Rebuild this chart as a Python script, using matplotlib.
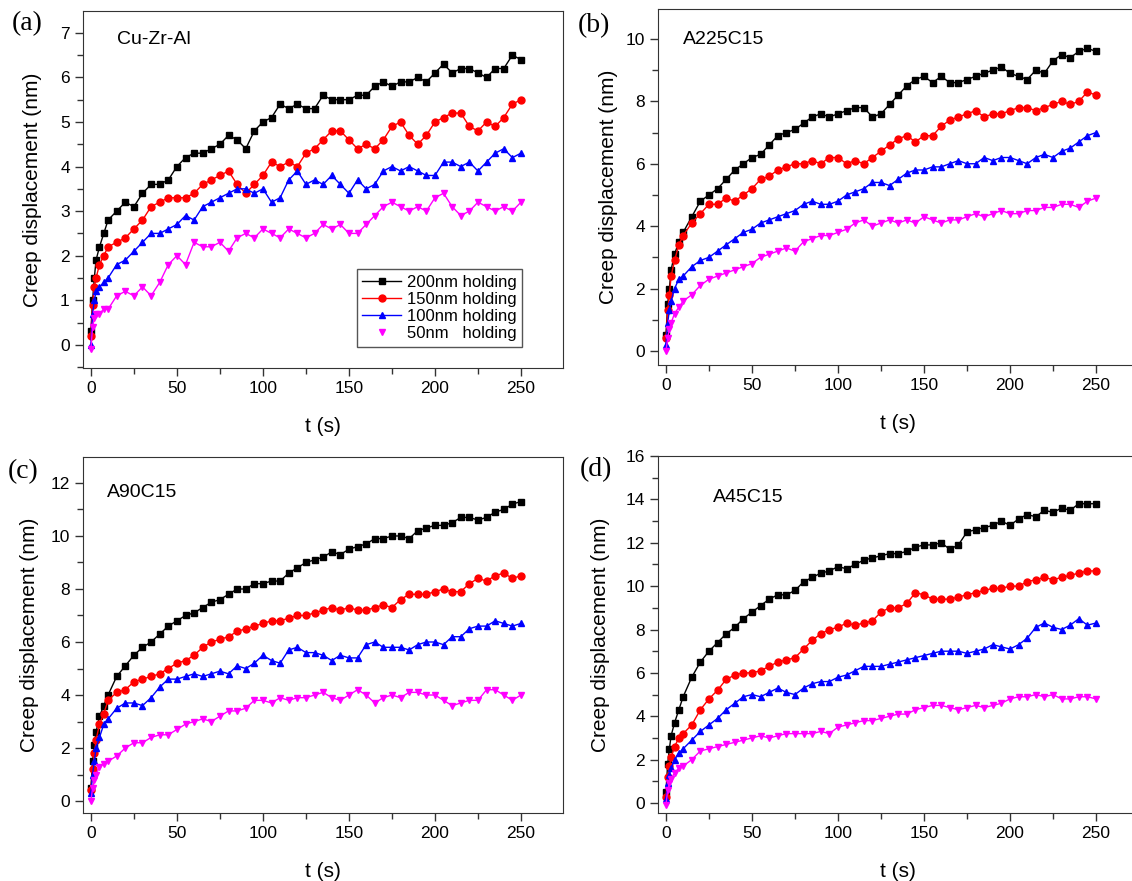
import matplotlib.pyplot as plt
from matplotlib.ticker import MultipleLocator

plt.rcParams['font.family'] = ['Liberation Sans', 'DejaVu Sans']

# time points (s), shared by all curves
t = [0, 1, 2, 3, 5, 7.5, 10] + list(range(15, 251, 5))

# (a) Cu-Zr-Al
a_200 = [0.3, 1.0, 1.5, 1.9, 2.2, 2.5, 2.8, 3.0, 3.2, 3.1, 3.4, 3.6, 3.6, 3.7, 4.0, 4.2, 4.3, 4.3, 4.4, 4.5,
         4.7, 4.6, 4.4, 4.8, 5.0, 5.1, 5.4, 5.3, 5.4, 5.3, 5.3, 5.6, 5.5, 5.5, 5.5, 5.6, 5.6, 5.8, 5.9, 5.8,
         5.9, 5.9, 6.0, 5.9, 6.1, 6.3, 6.1, 6.2, 6.2, 6.1, 6.0, 6.2, 6.2, 6.5, 6.4]
a_150 = [0.2, 0.9, 1.3, 1.5, 1.8, 2.0, 2.2, 2.3, 2.4, 2.6, 2.8, 3.1, 3.2, 3.3, 3.3, 3.3, 3.4, 3.6, 3.7, 3.8,
         3.9, 3.6, 3.4, 3.6, 3.8, 4.1, 4.0, 4.1, 4.0, 4.3, 4.4, 4.6, 4.8, 4.8, 4.6, 4.4, 4.5, 4.4, 4.6, 4.9,
         5.0, 4.7, 4.5, 4.7, 5.0, 5.1, 5.2, 5.2, 4.9, 4.8, 5.0, 4.9, 5.1, 5.4, 5.5]
a_100 = [0.0, 0.7, 1.0, 1.2, 1.3, 1.4, 1.5, 1.8, 1.9, 2.1, 2.3, 2.5, 2.5, 2.6, 2.7, 2.9, 2.8, 3.1, 3.2, 3.3,
         3.4, 3.5, 3.5, 3.4, 3.5, 3.2, 3.3, 3.7, 3.9, 3.6, 3.7, 3.6, 3.8, 3.6, 3.4, 3.7, 3.5, 3.6, 3.9, 4.0,
         3.9, 4.0, 3.9, 3.8, 3.8, 4.1, 4.1, 4.0, 4.1, 3.9, 4.1, 4.3, 4.4, 4.2, 4.3]
a_50 = [-0.1, 0.4, 0.6, 0.7, 0.7, 0.8, 0.8, 1.1, 1.2, 1.1, 1.3, 1.1, 1.4, 1.8, 2.0, 1.8, 2.3, 2.2, 2.2, 2.3,
        2.1, 2.4, 2.5, 2.4, 2.6, 2.5, 2.4, 2.6, 2.5, 2.4, 2.5, 2.7, 2.6, 2.7, 2.5, 2.5, 2.7, 2.9, 3.1, 3.2,
        3.1, 3.0, 3.1, 3.0, 3.3, 3.4, 3.1, 2.9, 3.0, 3.2, 3.1, 3.0, 3.1, 3.0, 3.2]

# (b) A225C15
b_200 = [0.5, 1.5, 2.0, 2.6, 3.1, 3.5, 3.8, 4.3, 4.8, 5.0, 5.2, 5.5, 5.8, 6.0, 6.2, 6.3, 6.6, 6.9, 7.0, 7.1,
         7.3, 7.5, 7.6, 7.5, 7.6, 7.7, 7.8, 7.8, 7.5, 7.6, 7.9, 8.2, 8.5, 8.7, 8.8, 8.6, 8.8, 8.6, 8.6, 8.7,
         8.8, 8.9, 9.0, 9.1, 8.9, 8.8, 8.7, 9.0, 8.9, 9.3, 9.5, 9.4, 9.6, 9.7, 9.6]
b_150 = [0.4, 1.3, 1.8, 2.4, 2.9, 3.4, 3.7, 4.1, 4.4, 4.7, 4.7, 4.9, 4.8, 5.0, 5.2, 5.5, 5.6, 5.8, 5.9, 6.0,
         6.0, 6.1, 6.0, 6.2, 6.2, 6.0, 6.1, 6.0, 6.2, 6.4, 6.6, 6.8, 6.9, 6.7, 6.9, 6.9, 7.2, 7.4, 7.5, 7.6,
         7.7, 7.5, 7.6, 7.6, 7.7, 7.8, 7.8, 7.7, 7.8, 7.9, 8.0, 7.9, 8.0, 8.3, 8.2]
b_100 = [0.2, 0.9, 1.3, 1.6, 2.0, 2.3, 2.4, 2.7, 2.9, 3.0, 3.2, 3.4, 3.6, 3.8, 3.9, 4.1, 4.2, 4.3, 4.4, 4.5,
         4.7, 4.8, 4.7, 4.7, 4.8, 5.0, 5.1, 5.2, 5.4, 5.4, 5.3, 5.5, 5.7, 5.8, 5.8, 5.9, 5.9, 6.0, 6.1, 6.0,
         6.0, 6.2, 6.1, 6.2, 6.2, 6.1, 6.0, 6.2, 6.3, 6.2, 6.4, 6.5, 6.7, 6.9, 7.0]
b_50 = [0.0, 0.4, 0.7, 0.9, 1.2, 1.4, 1.6, 1.8, 2.1, 2.3, 2.4, 2.5, 2.6, 2.7, 2.8, 3.0, 3.1, 3.2, 3.3, 3.2,
        3.5, 3.6, 3.7, 3.7, 3.8, 3.9, 4.1, 4.2, 4.0, 4.1, 4.2, 4.1, 4.2, 4.1, 4.3, 4.2, 4.1, 4.2, 4.2, 4.3,
        4.4, 4.3, 4.4, 4.5, 4.4, 4.4, 4.5, 4.5, 4.6, 4.6, 4.7, 4.7, 4.6, 4.8, 4.9]

# (c) A90C15
c_200 = [0.5, 1.5, 2.1, 2.6, 3.2, 3.6, 4.0, 4.7, 5.1, 5.5, 5.8, 6.0, 6.3, 6.6, 6.8, 7.0, 7.1, 7.3, 7.5, 7.6,
         7.8, 8.0, 8.0, 8.2, 8.2, 8.3, 8.3, 8.6, 8.8, 9.0, 9.1, 9.2, 9.4, 9.3, 9.5, 9.6, 9.7, 9.9, 9.9, 10.0,
         10.0, 9.9, 10.2, 10.3, 10.4, 10.4, 10.5, 10.7, 10.7, 10.6, 10.7, 10.9, 11.0, 11.2, 11.3]
c_150 = [0.4, 1.2, 1.8, 2.3, 2.9, 3.3, 3.8, 4.1, 4.2, 4.5, 4.6, 4.7, 4.8, 5.0, 5.2, 5.3, 5.5, 5.8, 6.0, 6.1,
         6.2, 6.4, 6.5, 6.6, 6.7, 6.8, 6.8, 6.9, 7.0, 7.0, 7.1, 7.2, 7.3, 7.2, 7.3, 7.2, 7.2, 7.3, 7.4, 7.3,
         7.6, 7.8, 7.8, 7.8, 7.9, 8.0, 7.9, 7.9, 8.2, 8.4, 8.3, 8.5, 8.6, 8.4, 8.5]
c_100 = [0.3, 1.0, 1.5, 2.0, 2.4, 2.9, 3.1, 3.5, 3.7, 3.7, 3.6, 3.9, 4.3, 4.6, 4.6, 4.7, 4.8, 4.7, 4.8, 4.9,
         4.8, 5.1, 5.0, 5.2, 5.5, 5.3, 5.2, 5.7, 5.8, 5.6, 5.6, 5.5, 5.3, 5.5, 5.4, 5.4, 5.9, 6.0, 5.8, 5.8,
         5.8, 5.7, 5.9, 6.0, 6.0, 5.9, 6.2, 6.2, 6.5, 6.6, 6.6, 6.8, 6.7, 6.6, 6.7]
c_50 = [0.0, 0.5, 0.8, 1.0, 1.3, 1.4, 1.5, 1.7, 2.0, 2.2, 2.2, 2.4, 2.5, 2.5, 2.7, 2.9, 3.0, 3.1, 3.0, 3.2,
        3.4, 3.4, 3.5, 3.8, 3.8, 3.7, 3.9, 3.8, 3.9, 3.9, 4.0, 4.1, 3.9, 3.8, 4.0, 4.2, 4.0, 3.7, 3.9, 4.0,
        3.9, 4.1, 4.1, 4.0, 4.0, 3.8, 3.6, 3.7, 3.8, 3.8, 4.2, 4.2, 4.0, 3.8, 4.0]

# (d) A45C15
d_200 = [0.5, 1.8, 2.5, 3.1, 3.7, 4.3, 4.9, 5.8, 6.5, 7.0, 7.4, 7.8, 8.1, 8.5, 8.8, 9.1, 9.4, 9.6, 9.6, 9.8,
         10.2, 10.4, 10.6, 10.7, 10.9, 10.8, 11.0, 11.2, 11.3, 11.4, 11.5, 11.5, 11.6, 11.8, 11.9, 11.9, 12.0,
         11.7, 11.9, 12.5, 12.6, 12.7, 12.8, 13.0, 12.8, 13.1, 13.3, 13.2, 13.5, 13.4, 13.6, 13.5, 13.8, 13.8, 13.8]
d_150 = [0.3, 1.2, 1.7, 2.1, 2.6, 3.0, 3.2, 3.6, 4.3, 4.8, 5.2, 5.7, 5.9, 6.0, 6.0, 6.1, 6.3, 6.5, 6.6, 6.7,
         7.1, 7.5, 7.8, 8.0, 8.1, 8.3, 8.2, 8.3, 8.4, 8.8, 9.0, 9.0, 9.2, 9.7, 9.6, 9.4, 9.4, 9.4, 9.5, 9.6,
         9.7, 9.8, 9.9, 9.9, 10.0, 10.0, 10.2, 10.3, 10.4, 10.3, 10.4, 10.5, 10.6, 10.7, 10.7]
d_100 = [0.2, 0.9, 1.3, 1.6, 2.0, 2.3, 2.5, 2.9, 3.3, 3.6, 3.9, 4.3, 4.6, 4.9, 5.0, 4.9, 5.1, 5.3, 5.1, 5.0,
         5.3, 5.5, 5.6, 5.6, 5.8, 5.9, 6.1, 6.3, 6.3, 6.3, 6.4, 6.5, 6.6, 6.7, 6.8, 6.9, 7.0, 7.0, 7.0, 6.9,
         7.0, 7.1, 7.3, 7.2, 7.1, 7.3, 7.6, 8.1, 8.3, 8.1, 8.0, 8.2, 8.5, 8.2, 8.3]
d_50 = [-0.1, 0.6, 0.9, 1.1, 1.4, 1.6, 1.7, 2.0, 2.4, 2.5, 2.6, 2.7, 2.8, 2.9, 3.0, 3.1, 3.0, 3.1, 3.2, 3.2,
        3.2, 3.2, 3.3, 3.2, 3.5, 3.6, 3.7, 3.8, 3.8, 3.9, 4.0, 4.1, 4.1, 4.3, 4.4, 4.5, 4.5, 4.4, 4.3, 4.4,
        4.5, 4.4, 4.5, 4.6, 4.8, 4.9, 4.9, 5.0, 4.9, 5.0, 4.8, 4.8, 4.9, 4.9, 4.8]

labels = ["200nm holding", "150nm holding", "100nm holding", "50nm   holding"]
colors = ["black", "red", "blue", "magenta"]
markers = ["s", "o", "^", "v"]

# tag, sample name, curves, ylim, y step, axes rect, name pos (axes frac), tag pos (fig px), ylabel x
panels = [
    ("(a)", "Cu-Zr-Al", [a_200, a_150, a_100, a_50], (-0.52, 7.49), 1,
     [0.0733, 0.5823, 0.424, 0.4052], (0.071, 0.919), (12, 24), -0.085),
    ("(b)", "A225C15", [b_200, b_150, b_100, b_50], (-0.45, 10.96), 2,
     [0.5813, 0.5857, 0.424, 0.4041], (0.052, 0.913), (578, 26), -0.083),
    ("(c)", "A90C15", [c_200, c_150, c_100, c_50], (-0.45, 12.98), 2,
     [0.0733, 0.0772, 0.424, 0.4041], (0.05, 0.899), (8, 472), -0.092),
    ("(d)", "A45C15", [d_200, d_150, d_100, d_50], (-0.46, 16.0), 2,
     [0.5813, 0.0772, 0.424, 0.4052], (0.115, 0.885), (580, 470), -0.1),
]

W, H = 1132, 881
fig = plt.figure(figsize=(W / 100, H / 100), dpi=100)

for tag, name, series, ylim, ystep, rect, txt, tpos, ylx in panels:
    ax = fig.add_axes(rect)
    for y, c, m, lab in zip(series, colors, markers, labels):
        ax.plot(t, y, color=c, marker=m, markersize=5, linewidth=1.0, label=lab)
    ax.set_xlim(-4.6, 274.4)
    ax.set_ylim(*ylim)
    ax.xaxis.set_major_locator(MultipleLocator(50))
    ax.xaxis.set_minor_locator(MultipleLocator(25))
    ax.yaxis.set_major_locator(MultipleLocator(ystep))
    ax.yaxis.set_minor_locator(MultipleLocator(ystep / 2))
    ax.tick_params(which='both', direction='out', top=False, right=False, labelsize=12.5,
                   color='#333333')
    ax.tick_params(which='major', length=6, width=1)
    ax.tick_params(which='minor', length=4, width=1)
    for s in ax.spines.values():
        s.set_color('#333333')
    ax.set_xlabel("t (s)", fontsize=15, labelpad=15)
    ax.set_ylabel("Creep displacement (nm)", fontsize=15)
    ax.yaxis.set_label_coords(ylx, 0.5)
    ax.text(txt[0], txt[1], name, transform=ax.transAxes, fontsize=14, va='center')
    fig.text(tpos[0] / W, 1 - tpos[1] / H, tag, fontsize=20,
             family='Liberation Serif', va='center')
    if tag == "(a)":
        leg = ax.legend(loc='lower right', bbox_to_anchor=(0.915, 0.059), fontsize=12,
                        fancybox=False, edgecolor='#555555', framealpha=1,
                        handlelength=2.3, handletextpad=0.35, borderpad=0.35,
                        labelspacing=0.12, borderaxespad=0)
        leg.get_frame().set_linewidth(1.0)
        leg.legend_handles[3].set_linestyle('none')

plt.savefig("out.png", dpi=100)
